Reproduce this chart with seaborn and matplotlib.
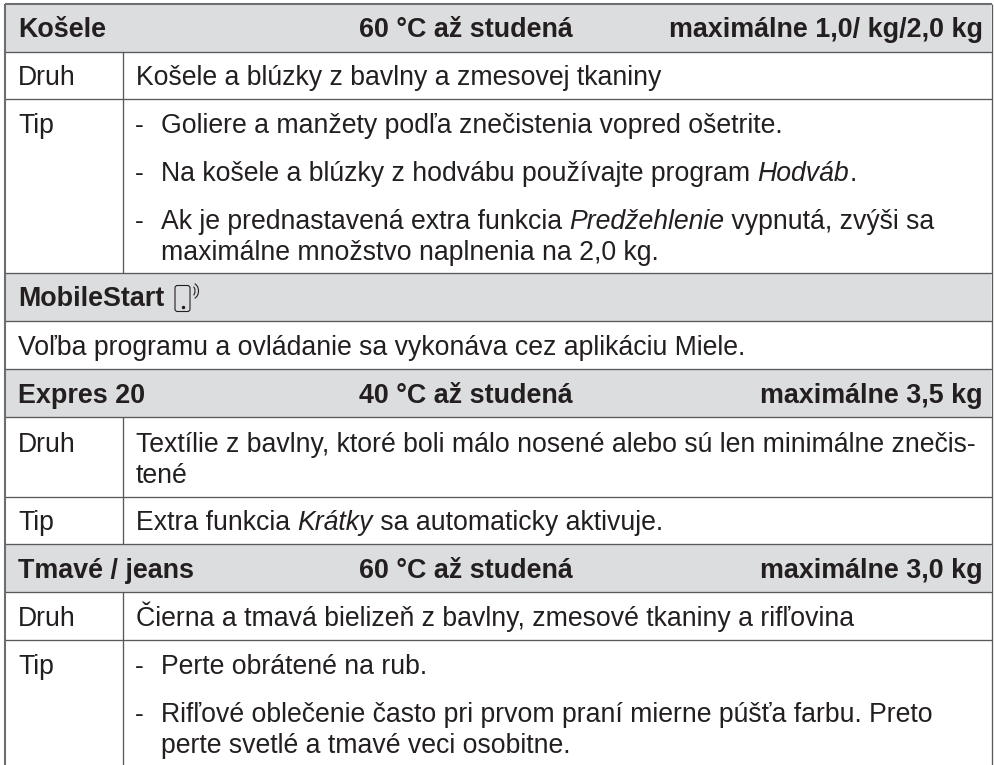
import matplotlib
matplotlib.use('Agg')
import matplotlib.pyplot as plt
from matplotlib.patches import Arc, FancyBboxPatch, Rectangle
import seaborn as sns

# Table content
head_titles = ['Košele', 'Expres 20', 'Tmavé / jeans']
head_temps = ['60 °C až studená', '40 °C až studená', '60 °C až studená']
head_loads = ['maximálne 1,0/ kg/2,0 kg', 'maximálne 3,5 kg', 'maximálne 3,0 kg']
head_baselines = [37, 403, 578]

mobile_title = 'MobileStart'
mobile_text = 'Voľba programu a ovládanie sa vykonáva cez aplikáciu Miele.'

row_labels = ['Druh', 'Tip', 'Druh', 'Tip', 'Druh', 'Tip']
label_baselines = [85, 133, 452, 530, 626, 674]

# plain lines of the second column, italics are marked with *
body_lines = [
    'Košele a blúzky z bavlny a zmesovej tkaniny',
    'Textílie z bavlny, ktoré boli málo nosené alebo sú len minimálne znečis-',
    'tené',
    'Extra funkcia *Krátky* sa automaticky aktivuje.',
    'Čierna a tmavá bielizeň z bavlny, zmesové tkaniny a rifľovina',
]
body_baselines = [85, 452, 483, 530, 626]

tip_lines = [
    '-\tGoliere a manžety podľa znečistenia vopred ošetrite.',
    '-\tNa košele a blúzky z hodvábu používajte program *Hodváb*.',
    '-\tAk je prednastavená extra funkcia *Predžehlenie* vypnutá, zvýši sa',
    '\tmaximálne množstvo naplnenia na 2,0 kg.',
    '-\tPerte obrátené na rub.',
    '-\tRifľové oblečenie často pri prvom praní mierne púšťa farbu. Preto',
    '\tperte svetlé a tmavé veci osobitne.',
]
tip_baselines = [133, 181, 229, 260, 674, 722, 753]

# grey bands and rules, in image pixels
band_edges = [(4, 52), (273, 321), (369, 417), (544, 592)]
rule_rows = [52, 99, 273, 321, 369, 417, 497, 544, 592, 640]
divider_spans = [(52, 273), (417, 544), (592, 765)]

INK = '#231f20'
BAND = '#dcddde'
RULE = '#58595b'
FRAME = '#6d6e71'
SIZE = 19.2
BOLD_SIZE = 19.4

sns.set_theme(style='white')
plt.rcParams['font.family'] = ['Liberation Sans', 'DejaVu Sans']

fig, ax = plt.subplots(figsize=(9.95, 7.65), dpi=100)
ax.set_position([0, 0, 1, 1])
ax.set_xlim(0, 995)
ax.set_ylim(765, 0)
ax.axis('off')

for top, bottom in band_edges:
    ax.add_patch(Rectangle((5, top), 986, bottom - top, color=BAND, lw=0))

ax.hlines(rule_rows, 5, 992, color=RULE, lw=0.95)
ax.hlines(4, 5, 992, color=FRAME, lw=1.5)
ax.vlines(5, 4, 765, color=FRAME, lw=1.5)
ax.vlines(992, 4, 765, color=RULE, lw=0.95)
for top, bottom in divider_spans:
    ax.vlines(123, top, bottom, color=RULE, lw=0.95)


def write_mixed(x, y, line):
    # italic parts need their own Text, so place them one after the other
    renderer = fig.canvas.get_renderer()
    for i, part in enumerate(line.split('*')):
        if not part:
            continue
        style = 'italic' if i % 2 else 'normal'
        t = ax.text(x, y, part, fontsize=SIZE, style=style, color=INK, va='baseline')
        x += t.get_window_extent(renderer).width


for title, temp, load, y in zip(head_titles, head_temps, head_loads, head_baselines):
    ax.text(18, y, title, fontsize=BOLD_SIZE, weight='bold', color=INK, va='baseline')
    ax.text(359, y, temp, fontsize=BOLD_SIZE, weight='bold', color=INK, va='baseline')
    ax.text(983, y, load, fontsize=BOLD_SIZE, weight='bold', color=INK, va='baseline', ha='right')

ax.text(18, 306, mobile_title, fontsize=BOLD_SIZE, weight='bold', color=INK, va='baseline')
ax.text(18, 355, mobile_text, fontsize=SIZE, color=INK, va='baseline')

for label, y in zip(row_labels, label_baselines):
    ax.text(18, y, label, fontsize=SIZE, color=INK, va='baseline')

for line, y in zip(body_lines, body_baselines):
    write_mixed(136, y, line)

for line, y in zip(tip_lines, tip_baselines):
    dash, rest = line.split('\t')
    if dash:
        ax.text(135, y, dash, fontsize=SIZE, color=INK, va='baseline')
    write_mixed(161, y, rest)

# phone symbol next to MobileStart
ax.add_patch(FancyBboxPatch((175, 285.5), 15, 26, boxstyle='round,pad=0,rounding_size=2.5',
                            fc='none', ec=INK, lw=0.8))
ax.plot([182.5], [307], marker='o', ms=1.5, color=INK)
ax.add_patch(Arc((192, 291), 6, 10, theta1=-70, theta2=70, ec=INK, lw=0.8))
ax.add_patch(Arc((192, 291), 13, 16, theta1=-70, theta2=70, ec=INK, lw=0.8))

sns.despine(ax=ax, left=True, bottom=True)
fig.savefig('out.png', dpi=100)
